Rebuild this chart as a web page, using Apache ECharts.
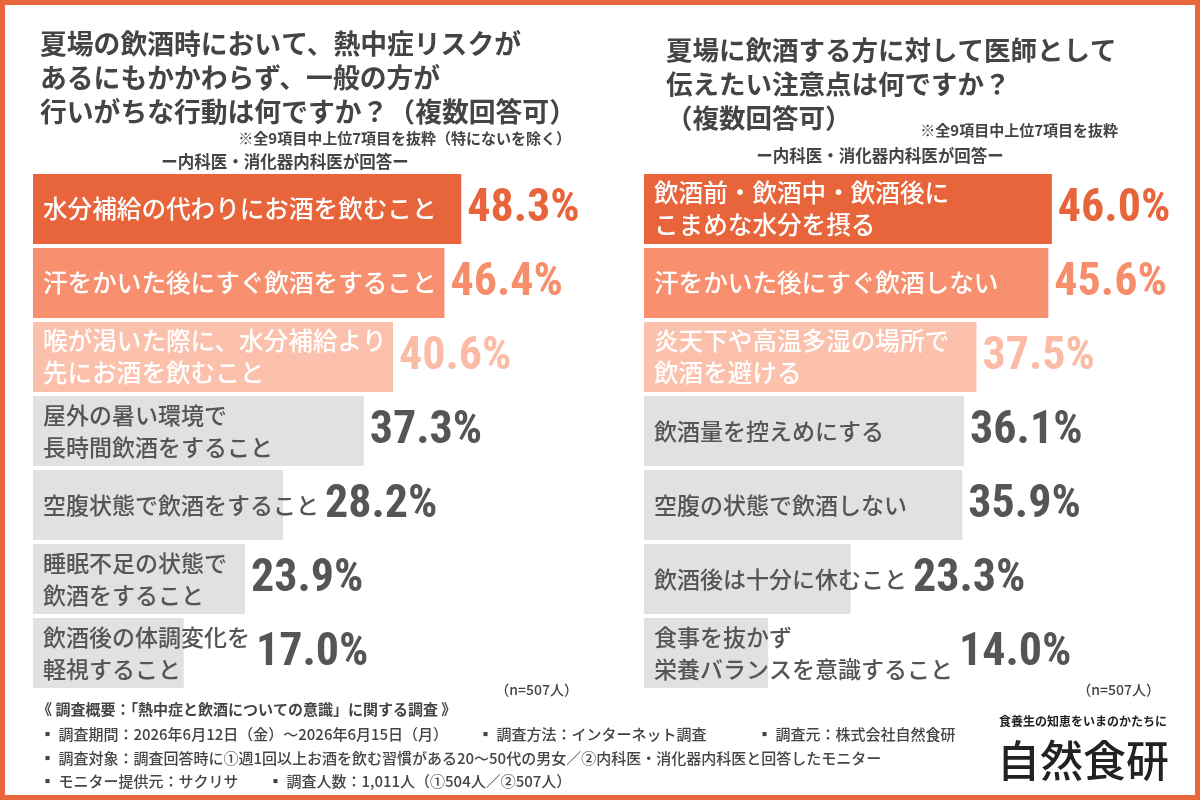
<!DOCTYPE html>
<html>
<head>
<meta charset="utf-8">
<script src="https://cdn.jsdelivr.net/npm/echarts@6/dist/echarts.min.js"></script>
<style>
html, body { margin: 0; padding: 0; background: #fff; }
#chart { width: 1200px; height: 800px; }
</style>
</head>
<body>
<div id="chart"></div>
<script>
// 左: 一般の方が行いがちな行動
const leftCategories = [
  '水分補給の代わりにお酒を飲むこと',
  '汗をかいた後にすぐ飲酒をすること',
  '喉が渇いた際に、水分補給より\n先にお酒を飲むこと',
  '屋外の暑い環境で\n長時間飲酒をすること',
  '空腹状態で飲酒をすること',
  '睡眠不足の状態で\n飲酒をすること',
  '飲酒後の体調変化を\n軽視すること'
]
const leftValues = [48.3, 46.4, 40.6, 37.3, 28.2, 23.9, 17.0]

// 右: 医師として伝えたい注意点
const rightCategories = [
  '飲酒前・飲酒中・飲酒後に\nこまめな水分を摂る',
  '汗をかいた後にすぐ飲酒しない',
  '炎天下や高温多湿の場所で\n飲酒を避ける',
  '飲酒量を控えめにする',
  '空腹の状態で飲酒しない',
  '飲酒後は十分に休むこと',
  '食事を抜かず\n栄養バランスを意識すること'
]
const rightValues = [46.0, 45.6, 37.5, 36.1, 35.9, 23.3, 14.0]

const sampleNote = '（n=507人）'

const JP = '"Noto Sans CJK JP", sans-serif'
const NUM = '"Roboto Condensed", "Roboto", sans-serif'
const barColors = ['#E8643A', '#F8906F', '#FCC1AC', '#E1E1E3', '#E1E1E3', '#E1E1E3', '#E1E1E3']
const textColors = ['#fff', '#fff', '#fff', '#555', '#555', '#555', '#555']
const pctColors = ['#E8643A', '#F68D6B', '#FBBBA5', '#555', '#555', '#555', '#555']
const textSize = i => (i < 3 ? 24.6 : 23)

const chart = echarts.init(document.getElementById('chart'))

const nameSeries = (values, idx) => ({
  type: 'bar',
  xAxisIndex: idx,
  yAxisIndex: idx,
  barWidth: 70,
  silent: true,
  data: values.map((v, i) => ({
    value: v,
    itemStyle: { color: barColors[i] },
    label: { color: textColors[i], fontSize: textSize(i) }
  })),
  label: {
    show: true,
    position: 'insideLeft',
    distance: 10,
    fontFamily: JP,
    fontWeight: 500,
    lineHeight: 32,
    formatter: p => p.name
  }
})

const pctSeries = (values, idx, offsets) => ({
  type: 'bar',
  xAxisIndex: idx,
  yAxisIndex: idx,
  barWidth: 70,
  barGap: '-100%',
  silent: true,
  itemStyle: { color: 'rgba(0,0,0,0)' },
  data: values.map((v, i) => ({
    value: v,
    label: { color: pctColors[i], offset: [offsets ? offsets[i] : 0, 0] }
  })),
  label: {
    show: true,
    position: 'right',
    distance: 6,
    fontFamily: NUM,
    fontWeight: 'bold',
    fontSize: 46,
    formatter: p => p.value.toFixed(1) + '%'
  }
})

const txt = (text, x, y, size, weight, extra) => ({
  type: 'text',
  x: x,
  y: y,
  silent: true,
  style: Object.assign({
    text: text,
    fontFamily: JP,
    fontSize: size,
    fontWeight: weight,
    fill: '#444',
    textVerticalAlign: 'middle'
  }, extra || {})
})

const graphics = [
  { type: 'rect', shape: { x: 0, y: 0, width: 1200, height: 800 }, silent: true,
    style: { fill: 'none', stroke: '#E8673C', lineWidth: 10 } },
  txt('夏場の飲酒時において、熱中症リスクが\nあるにもかかわらず、一般の方が\n行いがちな行動は何ですか？（複数回答可）',
    40, 78, 26.8, 'bold', { lineHeight: 34 }),
  txt('※全9項目中上位7項目を抜粋（特にないを除く）', 571, 138, 15, 'bold', { textAlign: 'right' }),
  txt('ー内科医・消化器内科医が回答ー', 285, 162, 16.5, 'bold', { textAlign: 'center' }),
  txt('夏場に飲酒する方に対して医師として\n伝えたい注意点は何ですか？\n（複数回答可）',
    666, 84, 26.5, 'bold', { lineHeight: 34 }),
  txt('※全9項目中上位7項目を抜粋', 1118, 130, 15, 'bold', { textAlign: 'right' }),
  txt('ー内科医・消化器内科医が回答ー', 880, 156, 16.5, 'bold', { textAlign: 'center' }),
  txt(sampleNote, 578, 690, 14, 500, { textAlign: 'right' }),
  txt(sampleNote, 1160, 690, 14, 500, { textAlign: 'right' }),
  txt('《 調査概要：「熱中症と飲酒についての意識」に関する調査 》', 37, 709, 15, 'bold'),
  txt('▪ 調査期間：2026年6月12日（金）～2026年6月15日（月）', 40, 734, 15, 500),
  txt('▪ 調査方法：インターネット調査', 478, 734, 15, 500),
  txt('▪ 調査元：株式会社自然食研', 757, 734, 15, 500),
  txt('▪ 調査対象：調査回答時に①週1回以上お酒を飲む習慣がある20～50代の男女／②内科医・消化器内科医と回答したモニター', 40, 758, 15, 500),
  txt('▪ モニター提供元：サクリサ', 40, 781, 15, 500),
  txt('▪ 調査人数：1,011人（①504人／②507人）', 268, 781, 15, 500),
  txt('食養生の知恵をいまのかたちに', 1083, 721, 12, 'bold', { textAlign: 'center', fill: '#222' }),
  txt('自然食研', 1083, 761, 43, 500, { textAlign: 'center', fill: '#222' })
]

const buildOption = (leftOff, rightOff) => ({
  animation: false,
  backgroundColor: '#fff',
  grid: [
    { left: 33, top: 172, width: 532, height: 518 },
    { left: 644, top: 172, width: 532, height: 518 }
  ],
  xAxis: [0, 1].map(i => ({ type: 'value', gridIndex: i, min: 0, max: 60, show: false })),
  yAxis: [
    { type: 'category', gridIndex: 0, inverse: true, data: leftCategories, show: false },
    { type: 'category', gridIndex: 1, inverse: true, data: rightCategories, show: false }
  ],
  series: [
    nameSeries(leftValues, 0),
    pctSeries(leftValues, 0, leftOff),
    nameSeries(rightValues, 1),
    pctSeries(rightValues, 1, rightOff)
  ],
  graphic: graphics
})

chart.setOption(buildOption())

// 数値ラベルをカテゴリ名の後ろへずらす
const ctx = document.createElement('canvas').getContext('2d')
const offsetsFor = (cats, values, idx) => cats.map((name, i) => {
  ctx.font = '500 ' + textSize(i) + 'px ' + JP
  const w = Math.max(...name.split('\n').map(s => ctx.measureText(s).width))
  const x0 = chart.convertToPixel({ xAxisIndex: idx }, 0)
  const x1 = chart.convertToPixel({ xAxisIndex: idx }, values[i])
  const textEnd = x0 + 10 + w
  return Math.max(0, textEnd + 6 - (x1 + 6))
})

chart.setOption(buildOption(
  offsetsFor(leftCategories, leftValues, 0),
  offsetsFor(rightCategories, rightValues, 1)
))
</script>
</body>
</html>
